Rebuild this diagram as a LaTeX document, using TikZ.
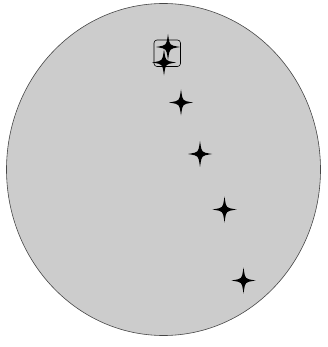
\documentclass[tikz,border=0pt]{standalone}
\tikzset{
  starpic/.pic={
    \fill[black] (0,-13) .. controls (1.3,-4.5) .. (2.6,-2.6)
      .. controls (4.5,-1.3) .. (12,0)
      .. controls (4.5,1.3) .. (2.6,2.6)
      .. controls (1.3,4.5) .. (0,13)
      .. controls (-1.3,4.5) .. (-2.6,2.6)
      .. controls (-4.5,1.3) .. (-12,0)
      .. controls (-4.5,-1.3) .. (-2.6,-2.6)
      .. controls (-1.3,-4.5) .. cycle;
  },
  disc/.style={fill={rgb,255:red,204;green,204;blue,204}, draw={rgb,255:red,70;green,70;blue,70}, line width=0.6pt},
  selbox/.style={draw=black, line width=0.6pt, rounded corners=3pt}
}
\begin{document}
\begin{tikzpicture}[x=1pt,y=-1pt]
\useasboundingbox (0,0) rectangle (327,347);
\draw[disc] (163.5,169.5) ellipse [x radius=157, y radius=166];
\draw[selbox] (154,40) rectangle (180.5,66.5);
\pic at (168,47) {starpic};
\pic at (164,62.5) {starpic};
\pic at (181,102.5) {starpic};
\pic at (200,154) {starpic};
\pic at (224.5,209.5) {starpic};
\pic at (243.5,280.5) {starpic};
\end{tikzpicture}
\end{document}
